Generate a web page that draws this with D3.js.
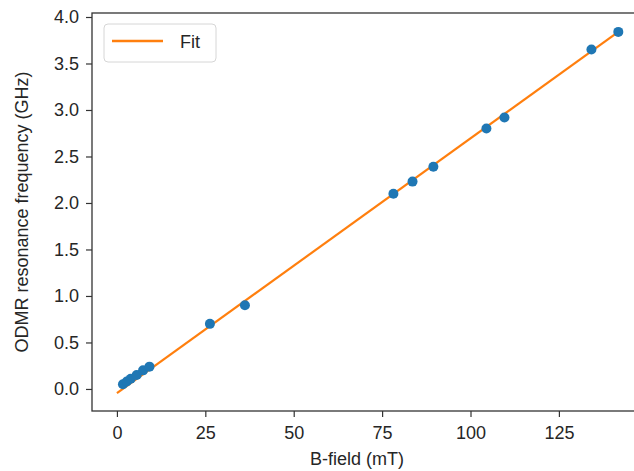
<!DOCTYPE html>
<html>
<head>
<meta charset="utf-8">
<script src="https://cdn.jsdelivr.net/npm/d3@7"></script>
<style>
	body { margin: 0; background: #fff; }
	svg { display: block; }
	text { font-family: "Liberation Sans", Arial, sans-serif; fill: #262626; }
</style>
</head>
<body>
<div id="chart"></div>
<script>
// Data
var bField = [1.7, 2.8, 3.9, 5.6, 7.4, 9.2, 26.3, 36.2, 78.2, 83.6, 89.5, 104.5, 109.6, 134.2, 141.8];
var freq = [0.05, 0.08, 0.11, 0.15, 0.20, 0.24, 0.70, 0.90, 2.10, 2.23, 2.39, 2.80, 2.92, 3.65, 3.84];
var fitX = [0, 141.8];
var fitY = [-0.045, 3.84];
var xTicks = [0, 25, 50, 75, 100, 125];
var yTicks = [0.0, 0.5, 1.0, 1.5, 2.0, 2.5, 3.0, 3.5, 4.0];

// Globals
var width = 634;
var height = 471;
var svg = d3.select("#chart")
	.append("svg")
	.attr("width", width)
	.attr("height", height);

var frame = {l: 92, t: 13, r: 648, b: 411};
var blue = "#1f77b4";
var orange = "#ff7f0e";

var x = d3.scaleLinear()
	.domain([-7.05, 150.2])
	.range([frame.l, frame.r]);

var y = d3.scaleLinear()
	.domain([-0.237, 4.043])
	.range([frame.b, frame.t]);

// Axes
var xAxis = svg.append("g")
	.attr("transform", "translate(0," + frame.b + ")")
	.call(d3.axisBottom(x).tickValues(xTicks).tickFormat(d3.format("d")).tickSize(6).tickPadding(9));

var yAxis = svg.append("g")
	.attr("transform", "translate(" + frame.l + ",0)")
	.call(d3.axisLeft(y).tickValues(yTicks).tickFormat(d3.format(".1f")).tickSize(6).tickPadding(7));

[xAxis, yAxis].forEach(function(g) {
	g.select(".domain").remove();
	g.selectAll(".tick line").attr("stroke", "#333").attr("stroke-width", 1.2);
	g.selectAll(".tick text").style("font-size", "18px").attr("fill", "#262626");
});

// Fit line
var line = d3.line()
	.x(function(d) { return x(d[0]); })
	.y(function(d) { return y(d[1]); });

svg.append("path")
	.datum(d3.zip(fitX, fitY))
	.attr("d", line)
	.attr("fill", "none")
	.attr("stroke", orange)
	.attr("stroke-width", 2.2);

// Points
svg.selectAll(".dot")
	.data(d3.zip(bField, freq))
	.enter().append("circle")
		.attr("class", "dot")
		.attr("cx", function(d) { return x(d[0]); })
		.attr("cy", function(d) { return y(d[1]); })
		.attr("r", 5)
		.attr("fill", blue);

// Frame
svg.append("rect")
	.attr("x", frame.l)
	.attr("y", frame.t)
	.attr("width", frame.r - frame.l)
	.attr("height", frame.b - frame.t)
	.attr("fill", "none")
	.attr("stroke", "#333")
	.attr("stroke-width", 1.3);

// Labels
svg.append("text")
	.attr("x", 357)
	.attr("y", 465)
	.attr("text-anchor", "middle")
	.style("font-size", "18px")
	.text("B-field (mT)");

svg.append("text")
	.attr("transform", "translate(28," + ((frame.t + frame.b) / 2) + ") rotate(-90)")
	.attr("text-anchor", "middle")
	.style("font-size", "18px")
	.text("ODMR resonance frequency (GHz)");

// Legend
var legend = svg.append("g");
legend.append("rect")
	.attr("x", 104)
	.attr("y", 24)
	.attr("width", 112)
	.attr("height", 38)
	.attr("rx", 4)
	.attr("fill", "#fff")
	.attr("stroke", "#d6d6d6")
	.attr("stroke-width", 1);
legend.append("line")
	.attr("x1", 112).attr("x2", 163)
	.attr("y1", 41).attr("y2", 41)
	.attr("stroke", orange)
	.attr("stroke-width", 2.4);
legend.append("text")
	.attr("x", 180)
	.attr("y", 48)
	.style("font-size", "18px")
	.text("Fit");
</script>
</body>
</html>
